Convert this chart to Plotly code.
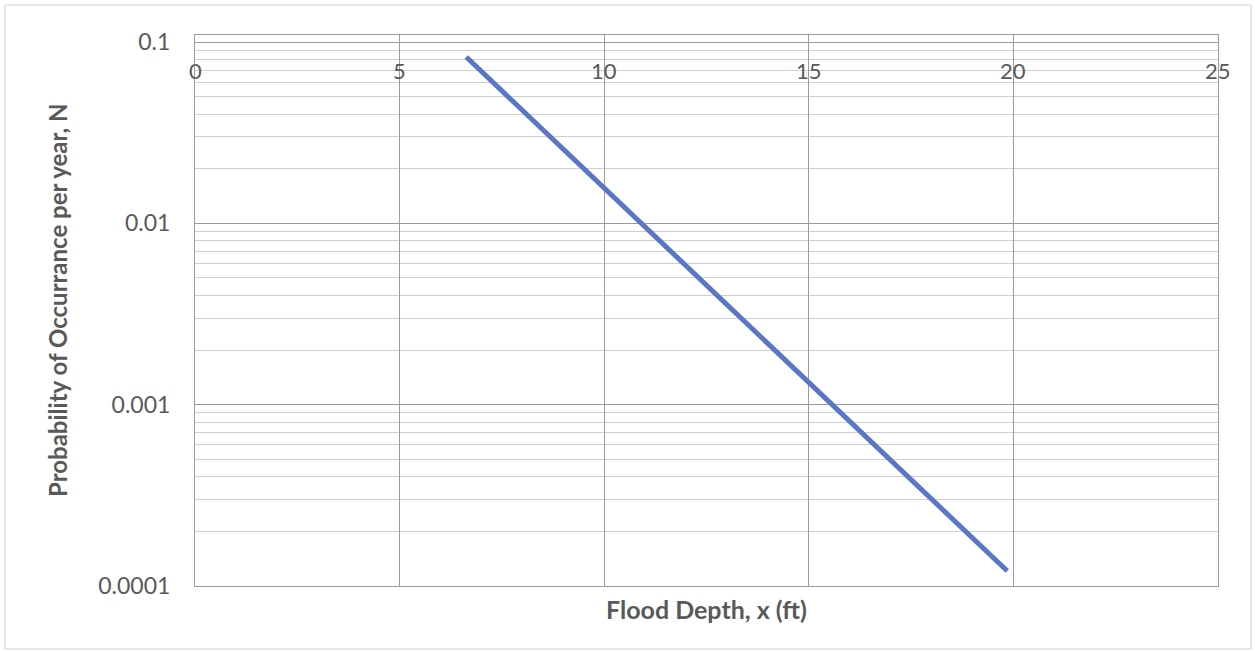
import plotly.graph_objects as go

# Data
flood_depth = [6.63, 10.0, 15.0, 19.85]
probability = [0.0827, 0.0156, 0.00132, 0.000121]

x_ticks = [0, 5, 10, 15, 20, 25]
x_tick_labels = ["0", "5", "10", "15", "20", "25"]
y_ticks = [0.1, 0.01, 0.001, 0.0001]
y_tick_labels = ["0.1", "0.01", "0.001", "0.0001"]

W, H = 1255, 652
ml, mr, mt, mb = 195, 37, 35, 66
pw = W - ml - mr
ph = H - mt - mb

font_family = "Lato, 'Open Sans', sans-serif"
txt_color = "#595959"

# minor log gridlines (2..9 within each decade)
minor_vals = [m * 10.0 ** e for e in (-4, -3, -2) for m in range(2, 10)]

fig = go.Figure()
fig.add_trace(go.Scatter(
    x=flood_depth, y=probability, mode="lines",
    line=dict(color="#5A76C6", width=5),
    showlegend=False, hoverinfo="skip",
))

annotations = []
for xv, lab in zip(x_ticks, x_tick_labels):
    annotations.append(dict(
        x=xv, y=1 - (70 - mt) / ph, xref="x", yref="paper",
        text=lab, showarrow=False,
        font=dict(family=font_family, size=22, color=txt_color),
        xanchor="center", yanchor="middle",
    ))
annotations.append(dict(
    x=0.5, y=-(609 - mt - ph) / ph, xref="paper", yref="paper",
    text="<b>Flood Depth, x (ft)</b>", showarrow=False,
    font=dict(family=font_family, size=25, color=txt_color),
    xanchor="center", yanchor="middle",
))
annotations.append(dict(
    x=(57 - ml) / pw, y=1 - (301 - mt) / ph, xref="paper", yref="paper",
    text="<b>Probability of Occurrance per year, N</b>", showarrow=False,
    textangle=-90,
    font=dict(family=font_family, size=24, color=txt_color),
    xanchor="center", yanchor="middle",
))

fig.update_layout(
    width=W, height=H,
    margin=dict(l=ml, r=mr, t=mt, b=mb),
    paper_bgcolor="white", plot_bgcolor="white",
    font=dict(family=font_family, color=txt_color),
    annotations=annotations,
    xaxis=dict(
        range=[0, 25], tickvals=x_ticks, showticklabels=False,
        showgrid=True, gridcolor="#9C9C9C", gridwidth=1,
        showline=True, linecolor="#9C9C9C", linewidth=1, mirror=True,
        zeroline=False, ticks="",
    ),
    yaxis=dict(
        type="log", range=[-4, -0.961],
        tickvals=y_ticks, ticktext=y_tick_labels,
        tickfont=dict(family=font_family, size=23, color=txt_color),
        showgrid=True, gridcolor="#9C9C9C", gridwidth=1,
        minor=dict(tickvals=minor_vals, showgrid=True,
                   gridcolor="#CFCFCF", gridwidth=1, ticks=""),
        showline=True, linecolor="#9C9C9C", linewidth=1, mirror=True,
        zeroline=False, ticks="outside", ticklen=19, tickcolor="rgba(0,0,0,0)",
    ),
    shapes=[dict(
        type="rect", xref="paper", yref="paper",
        x0=(5 - ml) / pw, x1=(1251 - ml) / pw,
        y0=-(649 - mt - ph) / ph, y1=1 + (mt - 5) / ph,
        line=dict(color="#D0D0D0", width=1), layer="below",
    )],
)

fig.write_html("out.html")
